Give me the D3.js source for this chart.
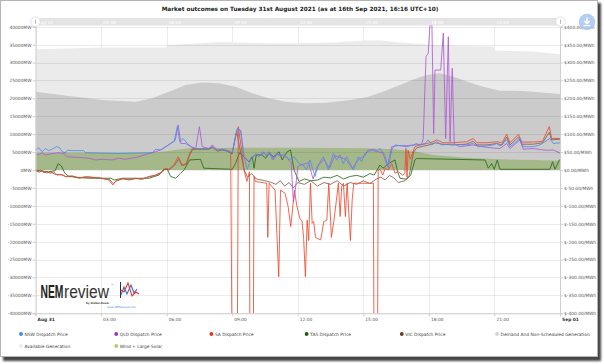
<!DOCTYPE html>
<html><head><meta charset="utf-8">
<script src="https://cdn.jsdelivr.net/npm/d3@7"></script>
<style>body{margin:0;background:#fff;}svg{display:block;font-family:"DejaVu Sans",Verdana,sans-serif;}</style>
</head><body><svg id="c" width="604" height="364"></svg>
<script>
const title = "Market outcomes on Tuesday 31st August 2021 (as at 16th Sep 2021, 16:16 UTC+10)";
const xTickHours = [0,3,6,9,12,15,18,21,24];
const xTickLabels = ["Aug 31","03:00","06:00","09:00","12:00","15:00","18:00","21:00","Sep 01"];
const mwTicks = [40000,35000,30000,25000,20000,15000,10000,5000,0,-5000,-10000,-15000,-20000,-25000,-30000,-35000,-40000];
const priceTicks = [400,350,300,250,200,150,100,50,0,-50,-100,-150,-200,-250,-300,-350,-400];

// [hour, MW]
const availableGen = [[0,33700],[1.5,33890],[3,34170],[5.95,34170],[6.05,34910],[7.6,35380],[8.5,35750],[9.2,35570],[10.7,35380],[12.1,35380],[13.6,35570],[15.1,36120],[15.8,36120],[16.7,35570],[18.2,34900],[19.7,34630],[20.95,34450],[21.0,33330],[22.8,33050],[24,32310]];
const demandGen = [[0,21870],[1.53,20670],[3.05,19560],[4.58,19080],[5.34,20020],[6.1,21870],[6.87,23730],[7.63,24400],[8.39,24200],[9.15,23270],[9.92,21410],[10.68,20020],[11.44,19080],[12.36,18620],[13.32,18800],[14.39,19560],[15.15,20300],[15.9,21870],[16.68,23730],[17.44,25590],[17.9,26540],[18.5,27000],[19.12,26070],[19.73,24670],[20.49,23270],[21.25,22150],[22.0,22150],[22.78,21870],[24,21220]];
const windSolar = [[0,4840],[3,4840],[5.34,4840],[5.95,5210],[7.0,6050],[9.15,6240],[12.1,6200],[15.15,6050],[16.4,5770],[17.44,5120],[18.2,4190],[19.73,3450],[21.25,2980],[22.78,2790],[24,2610]];

// [hour, $/MWh]
const nswPrice = [[0,56],[0.15,62],[0.3,51],[0.46,60],[0.6,54],[0.76,58],[0.95,65],[1.1,63],[1.22,51],[1.37,48],[1.45,55],[1.7,54],[2.2,54],[2.3,48],[3.0,47],[3.8,46],[4.5,47],[5.34,48],[5.5,58],[5.72,56],[5.95,65],[6.18,74],[6.34,79],[6.49,121],[6.6,79],[6.75,88],[6.95,74],[7.18,63],[7.33,60],[7.94,60],[8.09,65],[8.32,54],[8.55,58],[8.78,54],[9.0,48],[9.24,116],[9.39,110],[9.54,37],[9.69,2],[9.85,28],[10.08,46],[10.23,37],[10.38,51],[10.53,42],[10.69,51],[10.84,28],[11.0,46],[11.22,37],[11.37,46],[11.6,28],[11.83,37],[12.06,18],[12.25,14],[12.4,0],[12.56,28],[12.79,-18],[12.94,14],[13.17,37],[13.4,0],[13.63,46],[13.78,28],[13.93,42],[14.08,18],[14.24,37],[14.54,0],[14.77,37],[14.92,23],[15.07,46],[15.23,51],[15.38,56],[15.61,51],[15.76,60],[15.99,42],[16.14,5],[16.3,56],[16.45,70],[16.68,68],[16.98,65],[17.29,70],[17.44,74],[17.59,70],[17.82,74],[17.97,84],[18.13,70],[18.35,79],[18.58,70],[18.89,72],[19.73,70],[20.03,74],[20.26,65],[20.64,67],[20.95,70],[21.1,74],[21.25,67],[21.56,84],[21.71,65],[22.17,88],[22.32,65],[22.78,65],[23.08,70],[23.54,88],[23.69,74],[24,76]];
const qldPrice = [[0,46],[0.15,42],[0.3,48],[0.46,42],[0.76,46],[1.07,48],[1.3,46],[1.45,37],[2.0,35],[2.45,33],[2.75,28],[3.05,30],[3.5,28],[3.8,33],[4.1,30],[4.6,35],[5.2,46],[5.5,51],[5.8,58],[6.1,70],[6.4,84],[6.53,126],[6.65,74],[6.87,74],[7.1,65],[7.33,60],[7.5,121],[7.63,65],[7.94,60],[8.09,70],[8.32,56],[8.55,58],[8.85,51],[9.0,48],[9.24,116],[9.39,110],[9.54,37],[9.76,23],[9.9,35],[10.08,44],[10.3,40],[10.45,50],[10.6,38],[10.75,48],[10.9,30],[11.05,44],[11.3,40],[11.5,35],[11.7,20],[11.8,-90],[11.9,-50],[12.0,10],[12.2,15],[12.5,20],[12.7,-25],[12.9,10],[13.2,30],[13.45,5],[13.7,40],[13.95,35],[14.2,30],[14.5,5],[14.8,30],[15.07,40],[15.2,55],[15.46,58],[15.7,51],[15.9,47],[16.1,10],[16.3,65],[16.6,68],[17.0,68],[17.35,70],[17.67,72],[17.74,88],[17.87,317],[17.97,326],[18.05,405],[18.14,405],[18.22,102],[18.28,279],[18.54,279],[18.66,382],[18.77,88],[18.89,372],[18.97,79],[19.07,284],[19.16,73],[19.42,65],[20.03,70],[20.64,63],[21.25,60],[21.56,74],[21.71,60],[22.17,84],[22.32,58],[22.78,60],[23.1,57],[23.4,55],[23.69,56],[24,47]];
const saPrice = [[0,0],[0.12,-5],[0.23,0],[0.38,-7],[0.53,-5],[0.69,-9],[0.84,-5],[0.99,-14],[1.22,-12],[1.37,-18],[1.68,-16],[1.98,-23],[2.29,-18],[2.75,-21],[3.05,-23],[3.36,-28],[3.54,-42],[3.66,-32],[3.97,-23],[4.27,-28],[4.58,-23],[4.88,-26],[5.19,-18],[5.49,-14],[5.8,-5],[5.95,5],[6.1,2],[6.33,14],[6.53,37],[6.71,14],[6.9,18],[7.05,45],[7.18,60],[7.94,60],[8.09,65],[8.32,54],[8.55,58],[8.78,54],[8.93,51],[9.05,-1000],[9.2,-1000],[9.28,121],[9.43,56],[9.54,0],[9.67,-32],[9.79,-5],[9.83,-1000],[9.93,-1000],[10.0,-18],[10.06,-32],[10.58,-37],[10.63,-188],[10.69,-37],[10.96,-56],[11.13,-298],[11.21,-56],[11.42,-65],[11.56,-102],[11.68,-158],[11.85,-56],[11.95,-98],[12.1,-135],[12.2,-144],[12.27,-191],[12.35,-298],[12.43,-140],[12.5,-197],[12.58,-37],[12.66,-149],[12.73,-144],[12.81,-188],[12.9,-191],[13.05,-195],[13.19,-144],[13.33,-140],[13.42,-37],[13.54,-188],[13.65,-144],[13.77,-84],[13.86,-37],[13.94,-130],[14.01,-46],[14.09,-37],[14.18,-130],[14.26,-37],[14.41,-197],[14.49,-84],[14.56,-37],[15.46,-37],[15.52,-1000],[15.62,-1000],[15.68,0],[15.77,2],[15.89,-14],[16.0,5],[16.15,0],[16.3,18],[16.45,-9],[16.6,-5],[16.8,-14],[16.9,-10],[16.95,60],[17.0,-20],[17.05,55],[17.15,30],[17.36,65],[17.6,70],[17.9,74],[18.2,79],[18.35,84],[18.65,76],[19.12,76],[19.73,79],[20.03,88],[20.2,76],[20.64,76],[21.1,79],[21.35,76],[21.56,100],[21.71,76],[22.1,100],[22.25,78],[22.78,78],[23.2,80],[23.51,121],[23.62,88],[24,88]];
const tasPrice = [[0,0],[0.3,-3],[0.6,-5],[0.9,-2],[1.04,18],[1.19,11],[1.34,-9],[1.53,-18],[2.0,-21],[2.45,-23],[3.05,-23],[3.45,-23],[3.6,-28],[4.0,-23],[4.6,-23],[5.2,-23],[5.65,-14],[5.87,2],[6.03,2],[6.18,-18],[6.41,-23],[6.64,-9],[6.8,0],[7.05,28],[7.55,30],[7.7,5],[9.0,2],[9.15,18],[9.34,48],[9.54,37],[9.76,23],[9.92,37],[10.0,5],[10.1,42],[10.37,42],[10.53,33],[10.68,46],[10.91,37],[11.14,51],[11.29,28],[11.52,51],[11.67,56],[11.83,0],[12.06,-32],[12.3,-25],[12.6,-30],[12.9,-28],[13.2,-20],[13.5,-22],[13.8,-15],[14.1,-25],[14.4,-18],[14.7,-15],[15.0,-20],[15.3,-10],[15.5,-14],[15.76,14],[15.9,5],[16.2,20],[16.45,28],[16.57,-5],[16.68,-23],[16.98,-26],[17.17,-14],[17.36,28],[17.44,32],[20.57,28],[20.72,5],[20.87,18],[20.99,2],[21.13,28],[21.25,2],[23.54,2],[23.66,23],[23.77,2],[23.97,28],[24,28]];
const vicPrice = [[0,-2],[0.15,-6],[0.3,-3],[0.5,-8],[0.7,-6],[0.9,-12],[1.2,-14],[1.4,-19],[1.7,-18],[2.0,-22],[2.4,-20],[2.8,-22],[3.05,-24],[3.4,-27],[3.55,-38],[3.7,-30],[4.0,-25],[4.3,-27],[4.6,-24],[4.9,-25],[5.2,-19],[5.5,-15],[5.8,-6],[5.95,4],[6.1,0],[6.35,12],[6.55,30],[6.7,12],[6.9,16],[7.05,42],[7.2,58],[7.94,58],[8.1,63],[8.32,53],[8.55,56],[8.8,52],[9.0,45],[9.2,110],[9.35,60],[9.55,0],[9.7,-20],[9.9,-10],[10.1,-25],[10.5,-30],[10.8,-35],[11.0,-40],[11.2,-30],[11.4,-45],[11.6,-35],[11.8,-50],[12.0,-35],[12.3,-40],[12.6,-30],[12.9,-45],[13.2,-35],[13.5,-40],[13.8,-30],[14.1,-45],[14.4,-35],[14.7,-40],[15.0,-30],[15.3,-38],[15.6,-25],[15.8,-20],[16.0,-28],[16.2,-15],[16.4,-22],[16.6,-35],[16.9,-30],[17.1,-15],[17.3,50],[17.45,62],[17.7,66],[18.0,70],[18.3,76],[18.6,72],[19.1,70],[19.7,72],[20.03,80],[20.2,70],[20.64,70],[21.1,74],[21.35,70],[21.56,92],[21.71,70],[22.1,92],[22.25,72],[22.78,72],[23.2,76],[23.51,105],[23.62,84],[24,86]];

const legendNames = ["NSW Dispatch Price","QLD Dispatch Price","SA Dispatch Price","TAS Dispatch Price","VIC Dispatch Price","Demand And Non-Scheduled Generation","Available Generation","Wind + Large Solar"];
const legendColors = ["#3a86ee","#9a34c4","#e8321e","#1f5a14","#6e3c2c","#d2d2d2","#ececec","#a9d06c"];

const svg = d3.select("#c");
const defs = svg.append("defs");
defs.append("filter").attr("id","blur").append("feGaussianBlur").attr("stdDeviation",1.2);
defs.append("clipPath").attr("id","plotclip").append("rect").attr("x",35.5).attr("y",24).attr("width",524.5).attr("height",289.3);

// frame and shadow
svg.append("rect").attr("x",3).attr("y",3).attr("width",598).attr("height",358).attr("fill","#444").attr("filter","url(#blur)");
svg.append("rect").attr("x",0.5).attr("y",0.5).attr("width",597).attr("height",356).attr("fill","#fff").attr("stroke","#b5b5b5");

const x = d3.scaleLinear().domain([0,24]).range([35.5,560]);
const yMW = d3.scaleLinear().domain([-40000,40000]).range([313.3,26.7]);
const yP = d3.scaleLinear().domain([-400,400]).range([313.3,26.7]);

// title
const t = svg.append("text").attr("x",300).attr("y",10.5).attr("text-anchor","middle")
  .attr("font-weight","bold").attr("font-size",6).attr("fill","#222").text(title);
const tw = t.node().getComputedTextLength();
t.attr("font-size", 6*277/tw);

// vertical grid
svg.append("g").selectAll("line").data(xTickHours).join("line")
  .attr("x1",d=>Math.round(x(d))+0.5).attr("x2",d=>Math.round(x(d))+0.5)
  .attr("y1",yMW(40000)).attr("y2",yMW(-40000)).attr("stroke","#ececec");

// areas
const area = d3.area().x(d=>x(d[0])).y0(yMW(0)).y1(d=>yMW(d[1]));
const pg = svg.append("g").attr("clip-path","url(#plotclip)");
pg.append("path").datum(availableGen).attr("d",area).attr("fill","#ebebeb");
pg.append("path").datum(demandGen).attr("d",area).attr("fill","#cbcbcb");
pg.append("path").datum(windSolar).attr("d",area).attr("fill","#a5b889");

// horizontal grid over areas
svg.append("g").selectAll("line").data(mwTicks).join("line")
  .attr("x1",35.5).attr("x2",560)
  .attr("y1",d=>Math.round(yMW(d))+0.5).attr("y2",d=>Math.round(yMW(d))+0.5)
  .attr("stroke","#000").attr("stroke-opacity",0.08);

// price lines
const line = d3.line().x(d=>x(d[0])).y(d=>yP(d[1]));
const series = [[tasPrice,"#2d6a1e"],[vicPrice,"#86604f"],[saPrice,"#ee4a30"],[qldPrice,"#b25ad6"],[nswPrice,"#4f8fef"]];
series.forEach(([data,c])=>{
  pg.append("path").datum(data).attr("d",line).attr("fill","none").attr("stroke",c)
    .attr("stroke-width",1).attr("stroke-opacity",0.85).attr("stroke-linejoin","round");
});

// axes
const fs = 4.4;
const la = svg.append("g").attr("transform","translate(35.5,0)")
  .call(d3.axisLeft(yMW).tickValues(mwTicks).tickFormat(d=>d+"MW").tickSize(3).tickPadding(1));
const ra = svg.append("g").attr("transform","translate(560,0)")
  .call(d3.axisRight(yP).tickValues(priceTicks).tickFormat(d=>"$"+d.toFixed(2)+"/MWh").tickSize(3).tickPadding(1));
const ba = svg.append("g").attr("transform","translate(0,313.3)")
  .call(d3.axisBottom(x).tickValues(xTickHours).tickFormat((d,i)=>xTickLabels[i]).tickSize(3).tickPadding(1.5));
[la,ra,ba].forEach(g=>{
  g.select(".domain").attr("stroke","#cfcfcf");
  g.selectAll(".tick line").attr("stroke","#cfcfcf");
  g.selectAll("text").attr("font-size",fs).attr("fill","#555").attr("font-family","DejaVu Sans");
});
ba.selectAll("text").attr("text-anchor","start").attr("dx",1.5)
  .attr("font-weight",(d,i)=>(i===0||i===8)?"bold":"normal").attr("fill",(d,i)=>(i===0||i===8)?"#333":"#555");

// scrollbar
const sb = svg.append("g");
sb.append("rect").attr("x",35.5).attr("y",18).attr("width",524.5).attr("height",7.5).attr("fill","#e4e4e4");
sb.selectAll("text").data(xTickHours.slice(0,8)).join("text")
  .attr("x",d=>x(d)+2).attr("y",23.6).attr("font-size",fs).attr("fill","#fff").text((d,i)=>xTickLabels[i]);
[35.5,560.5].forEach(cx=>{
  sb.append("circle").attr("cx",cx).attr("cy",21.7).attr("r",4.8).attr("fill","#fff").attr("stroke","#d0d0d0").attr("stroke-width",0.6);
  sb.append("line").attr("x1",cx).attr("x2",cx).attr("y1",19.6).attr("y2",23.8).attr("stroke","#999").attr("stroke-width",0.7);
});
// export button
const eb = svg.append("g").attr("transform","translate(587,22)");
eb.append("circle").attr("r",8.3).attr("fill","#abc9ef").attr("opacity",0.9);
eb.append("path").attr("d","M0,-4.5V1.5M-2.6,-1L0,1.8L2.6,-1M-3.6,3.6H3.6").attr("stroke","#fff").attr("stroke-width",1.4).attr("fill","none");

// legend
const lg = svg.append("g");
legendNames.forEach((n,i)=>{
  const col = i<6 ? i : i-6, row = i<6?0:1;
  const gx = 21 + col*95.2, gy = 334 + row*12;
  lg.append("circle").attr("cx",gx).attr("cy",gy).attr("r",1.9).attr("fill",legendColors[i]);
  lg.append("text").attr("x",gx+3.5).attr("y",gy+1.6).attr("font-size",fs).attr("fill","#444").text(n);
});

// logo
const logo = svg.append("g");
logo.append("g").attr("transform","translate(40.5,297.5) scale(0.59,1)")
  .append("text").attr("font-family","Liberation Sans").attr("font-weight","bold").attr("font-size",17.5).attr("fill","#222").text("NEM");
logo.append("g").attr("transform","translate(64,297.5) scale(0.89,1)")
  .append("text").attr("font-family","Liberation Sans").attr("font-size",17.5).attr("fill","#333").text("review");
logo.append("text").attr("x",111).attr("y",286).attr("font-size",2.6).attr("fill","#333").text("™");
logo.append("text").attr("x",86).attr("y",304).attr("font-size",2.6).attr("font-weight","bold").attr("fill","#444").text("by Global-Roam");
logo.append("text").attr("x",107).attr("y",308).attr("font-size",2.8).attr("fill","#4a7fd0").text("www.NEMreview.info");
logo.append("path").attr("d","M120.5,282V298").attr("stroke","#333").attr("stroke-width",1).attr("fill","none");
logo.append("path").attr("d","M121,295L124,287L127,294L131,285L134,293L137,289").attr("stroke","#3b6fd4").attr("stroke-width",1.1).attr("fill","none");
logo.append("path").attr("d","M121,290L124,292L128,283L132,296L136,292L139,294").attr("stroke","#e03a2e").attr("stroke-width",1.1).attr("fill","none");
</script></body></html>
